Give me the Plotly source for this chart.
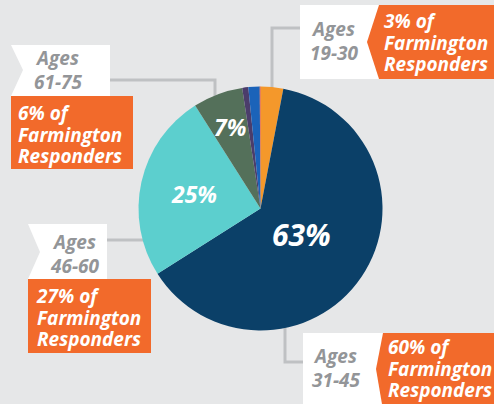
import plotly.graph_objects as go

W, H = 494, 404

# ---- data ----
slice_names = ["Ages 19-30", "Ages 31-45", "Ages 46-60", "Ages 61-75", "Other A", "Other B", "Other C"]
slice_values = [3, 63, 25, 6.6, 0.8, 1.5, 0.1]
slice_colors = ["#f4982b", "#0b4068", "#5ccfce", "#54705a", "#4b3d6b", "#1b63b9", "#e0432a"]
pct_labels = ["63%", "25%", "7%"]
age_labels = [["Ages", "61-75"], ["Ages", "19-30"], ["Ages", "46-60"], ["Ages", "31-45"]]
resp_labels = [["6% of", "Farmington", "Responders"],
               ["3% of", "Farmington", "Responders"],
               ["27% of", "Farmington", "Responders"],
               ["60% of", "Farmington", "Responders"]]

def px(x):
    return x / W

def py(y):
    return 1 - y / H

cx, cy, r = 260.5, 208.5, 122

fig = go.Figure(go.Pie(
    labels=slice_names, values=slice_values, sort=False, direction="clockwise",
    rotation=0, marker=dict(colors=slice_colors, line=dict(width=0)),
    textinfo="none", hoverinfo="label+percent", showlegend=False,
    domain=dict(x=[px(cx - r), px(cx + r)], y=[py(cy + r), py(cy - r)]),
))

FONT = "Open Sans"
ORANGE = "#f26a2b"
GRAY = "#939598"
LINE = "#bfc1c3"

shapes = []

def path(points):
    return "M " + " L ".join(f"{px(x)},{py(y)}" for x, y in points) + " Z"

def add_poly(points, color):
    shapes.append(dict(type="path", xref="paper", yref="paper", path=path(points),
                       fillcolor=color, line=dict(width=0), layer="above"))

def add_line(points):
    s = "M " + " L ".join(f"{px(x)},{py(y)}" for x, y in points)
    shapes.append(dict(type="path", xref="paper", yref="paper", path=s,
                       line=dict(color=LINE, width=3), layer="below"))

# connectors
add_line([(110, 80), (215, 80), (215, 100)])
add_line([(300, 28), (272, 28), (272, 95)])
add_line([(107, 240), (150, 240)])
add_line([(285, 320), (285, 362), (303, 362)])

# boxes
add_poly([(11, 45), (110, 45), (110, 96), (11, 96), (23, 70)], "white")
add_poly([(11, 96), (133, 96), (133, 169), (11, 169)], ORANGE)

add_poly([(300, 5), (380, 5), (380, 79), (300, 79)], "white")
add_poly([(379, 5), (494, 5), (494, 79), (379, 79), (367, 42)], ORANGE)

add_poly([(28, 224), (107, 224), (107, 279), (28, 279), (40, 252)], "white")
add_poly([(28, 279), (151, 279), (151, 353), (28, 353)], ORANGE)

add_poly([(303, 333), (384, 333), (384, 410), (303, 410)], "white")
add_poly([(383, 333), (494, 333), (494, 410), (383, 410), (376, 369)], ORANGE)

annotations = []

def text(x, y, s, size, color, xanchor="center"):
    annotations.append(dict(x=px(x), y=py(y), xref="paper", yref="paper", text=f"<b><i>{s}</i></b>",
                            showarrow=False, xanchor=xanchor, yanchor="middle",
                            font=dict(family=FONT, size=size, color=color)))

def block(x, y, lines, glyph_size, spacing, color, xanchor, align):
    # base font sets line spacing (1.3em); spans set glyph size
    base = spacing / 1.3
    s = "<br>".join(f'<span style="font-size:{glyph_size}px"><b><i>{l}</i></b></span>' for l in lines)
    annotations.append(dict(x=px(x), y=py(y), xref="paper", yref="paper", text=s,
                            showarrow=False, xanchor=xanchor, yanchor="middle", align=align,
                            font=dict(family=FONT, size=base, color=color)))

# percent labels in slices
text(301, 235, pct_labels[0], 30, "white")
text(194, 194, pct_labels[1], 23, "white")
text(230, 127, pct_labels[2], 23, "white")

# age labels
age_pos = [(58, 70), (334, 41.5), (75, 253.5), (336, 367.5)]
for lines, (x, y) in zip(age_labels, age_pos):
    block(x, y, lines, 19, 24, GRAY, "center", "center")

resp_pos = [(16, 134.5), (382, 42.5), (34, 317), (386, 368)]
for lines, (x, y) in zip(resp_labels, resp_pos):
    block(x, y, lines, 19, 21.5, "white", "left", "left")

fig.update_layout(
    width=W, height=H, margin=dict(l=0, r=0, t=0, b=0),
    paper_bgcolor="#e6e7e8", plot_bgcolor="#e6e7e8",
    shapes=shapes, annotations=annotations,
)

fig.write_html("out.html", config={"displayModeBar": False},
               post_script="document.body.style.margin='0';document.body.style.overflow='hidden';")
